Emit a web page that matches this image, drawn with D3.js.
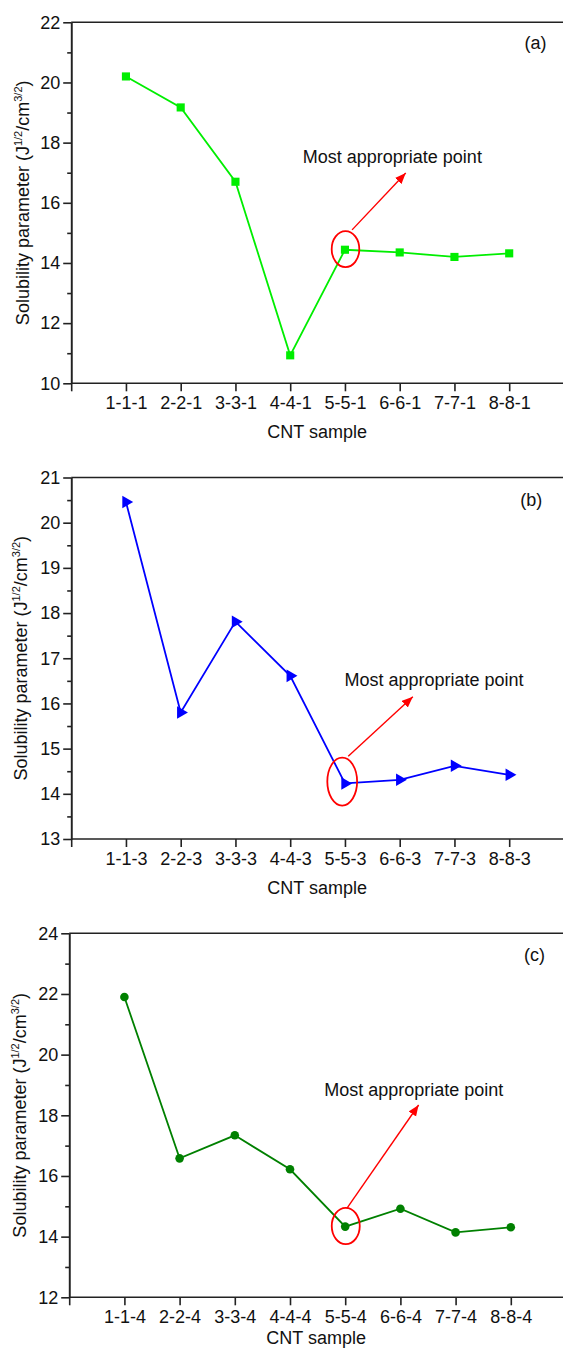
<!DOCTYPE html>
<html>
<head>
<meta charset="utf-8">
<script src="https://cdn.jsdelivr.net/npm/d3@7"></script>
<style>
  body { margin: 0; background: #fff; }
  svg text { font-family: Arial, "Liberation Sans", sans-serif; fill: #111; }
  .axis path, .axis line { stroke: #222; stroke-width: 1.6; }
  .frame { stroke: #222; stroke-width: 1.6; }
</style>
</head>
<body>
<svg id="chart" width="563" height="1349"></svg>
<script>
// Data
var samplesA = ["1-1-1", "2-2-1", "3-3-1", "4-4-1", "5-5-1", "6-6-1", "7-7-1", "8-8-1"];
var samplesB = ["1-1-3", "2-2-3", "3-3-3", "4-4-3", "5-5-3", "6-6-3", "7-7-3", "8-8-3"];
var samplesC = ["1-1-4", "2-2-4", "3-3-4", "4-4-4", "5-5-4", "6-6-4", "7-7-4", "8-8-4"];

var valuesA = [20.2, 19.17, 16.7, 10.93, 14.44, 14.35, 14.2, 14.32];
var valuesB = [20.46, 15.8, 17.81, 16.61, 14.23, 14.31, 14.62, 14.42];
var valuesC = [21.9, 16.58, 17.34, 16.22, 14.33, 14.92, 14.14, 14.31];

var yTicksA = [10, 12, 14, 16, 18, 20, 22];
var yMinorA = [11, 13, 15, 17, 19, 21];
var yTicksB = [13, 14, 15, 16, 17, 18, 19, 20, 21];
var yMinorB = [13.5, 14.5, 15.5, 16.5, 17.5, 18.5, 19.5, 20.5];
var yTicksC = [12, 14, 16, 18, 20, 22, 24];
var yMinorC = [13, 15, 17, 19, 21, 23];

var xTicks = [0, 1, 2, 3, 4, 5, 6, 7, 8, 9];

var svg = d3.select("#chart");

// arrow head for the annotation
svg.append("defs")
  .append("marker")
  .attr("id", "arrow")
  .attr("markerUnits", "userSpaceOnUse")
  .attr("markerWidth", 12)
  .attr("markerHeight", 10)
  .attr("refX", 11)
  .attr("refY", 4.5)
  .attr("orient", "auto")
  .append("path")
  .attr("d", "M0,0 L11,4.5 L0,9 Z")
  .attr("fill", "#ff0000");

var renderPanel = function(config) {
  var xScale = d3.scaleLinear()
    .domain([0, 9])
    .range([config.left, config.left + 9 * config.step]);

  var yScale = d3.scaleLinear()
    .domain(config.yDomain)
    .range([config.bottom, config.top]);

  var g = svg.append("g");

  // top frame
  g.append("line")
    .attr("class", "frame")
    .attr("x1", config.left)
    .attr("x2", 563)
    .attr("y1", config.top)
    .attr("y2", config.top);

  // minor y ticks
  g.append("g")
    .attr("class", "axis")
    .attr("transform", "translate(" + config.left + ",0)")
    .call(d3.axisLeft(yScale).tickValues(config.yMinor).tickSize(4).tickSizeOuter(0).tickFormat(""));

  // major y ticks
  var yAxis = g.append("g")
    .attr("class", "axis")
    .attr("transform", "translate(" + config.left + ",0)")
    .call(d3.axisLeft(yScale).tickValues(config.yTicks).tickSize(8).tickSizeOuter(0).tickPadding(3));
  yAxis.selectAll("text").style("font-size", "18px").attr("fill", "#111");

  // x axis
  var xAxis = g.append("g")
    .attr("class", "axis")
    .attr("transform", "translate(0," + config.bottom + ")")
    .call(d3.axisBottom(xScale)
      .tickValues(xTicks)
      .tickSize(8)
      .tickSizeOuter(0)
      .tickPadding(5)
      .tickFormat(function(i) { return config.labels[i - 1] || ""; }));
  xAxis.select(".domain").attr("d", "M" + config.left + ",0H563");
  xAxis.selectAll("text").style("font-size", "18px").attr("fill", "#111");

  // axis titles
  g.append("text")
    .attr("x", (config.left + 563) / 2)
    .attr("y", config.bottom + config.titleGap)
    .attr("text-anchor", "middle")
    .style("font-size", "18px")
    .text("CNT sample");

  var yTitle = g.append("text")
    .attr("transform", "translate(" + config.yTitleX + "," + (config.top + config.bottom) / 2 + ") rotate(-90)")
    .attr("text-anchor", "middle")
    .style("font-size", "18px");
  yTitle.append("tspan").text("Solubility parameter (J");
  yTitle.append("tspan").attr("dy", -7).style("font-size", "11px").text("1/2");
  yTitle.append("tspan").attr("dy", 7).text("/cm");
  yTitle.append("tspan").attr("dy", -7).style("font-size", "11px").text("3/2");
  yTitle.append("tspan").attr("dy", 7).text(")");

  // panel letter
  g.append("text")
    .attr("x", xScale(config.letterX))
    .attr("y", config.letterY)
    .attr("dy", "0.36em")
    .style("font-size", "18px")
    .text(config.letter);

  // line
  var line = d3.line()
    .x(function(d, i) { return xScale(i + 1); })
    .y(function(d) { return yScale(d); });

  g.append("path")
    .datum(config.values)
    .attr("d", line)
    .attr("fill", "none")
    .attr("stroke", config.color)
    .attr("stroke-width", 1.8);

  // markers
  g.selectAll(".pt")
    .data(config.values)
    .enter()
    .append("path")
    .attr("class", "pt")
    .attr("d", d3.symbol().type(config.symbol).size(config.symbolSize))
    .attr("transform", function(d, i) {
      return "translate(" + xScale(i + 1) + "," + yScale(d) + ") rotate(" + config.rotate + ")";
    })
    .attr("fill", config.color);

  // annotation
  var a = config.note;
  g.append("ellipse")
    .attr("cx", xScale(a.cx))
    .attr("cy", yScale(a.cy))
    .attr("rx", a.rx)
    .attr("ry", a.ry)
    .attr("fill", "none")
    .attr("stroke", "#ff0000")
    .attr("stroke-width", 1.8);

  g.append("line")
    .attr("x1", xScale(a.x1))
    .attr("y1", yScale(a.y1))
    .attr("x2", xScale(a.x2))
    .attr("y2", yScale(a.y2))
    .attr("stroke", "#ff0000")
    .attr("stroke-width", 1.4)
    .attr("marker-end", "url(#arrow)");

  g.append("text")
    .attr("x", xScale(a.tx))
    .attr("y", yScale(a.ty))
    .style("font-size", "18px")
    .text("Most appropriate point");
};

renderPanel({
  left: 71.2, step: 54.75, top: 22.3, bottom: 383.3, titleGap: 54.5,
  yDomain: [10, 22], yTicks: yTicksA, yMinor: yMinorA,
  labels: samplesA, values: valuesA,
  color: "#00ee00", symbol: d3.symbolSquare, symbolSize: 66, rotate: 0,
  yTitleX: 28.5, letter: "(a)", letterX: 8.28, letterY: 43,
  note: { cx: 5.01, cy: 14.46, rx: 13.8, ry: 18, x1: 5.13, y1: 15.1, x2: 6.11, y2: 16.99, tx: 4.23, ty: 17.31 }
});

renderPanel({
  left: 71.2, step: 54.75, top: 477.5, bottom: 839, titleGap: 54.5,
  yDomain: [13, 21], yTicks: yTicksB, yMinor: yMinorB,
  labels: samplesB, values: valuesB,
  color: "#0000ff", symbol: d3.symbolTriangle, symbolSize: 68, rotate: 90,
  yTitleX: 26.5, letter: "(b)", letterX: 8.2, letterY: 500,
  note: { cx: 4.95, cy: 14.27, rx: 14.9, ry: 24, x1: 5.06, y1: 14.83, x2: 6.24, y2: 16.15, tx: 4.99, ty: 16.38 }
});

renderPanel({
  left: 69.2, step: 55.2, top: 933.3, bottom: 1297.3, titleGap: 47,
  yDomain: [12, 24], yTicks: yTicksC, yMinor: yMinorC,
  labels: samplesC, values: valuesC,
  color: "#008000", symbol: d3.symbolCircle, symbolSize: 58, rotate: 0,
  yTitleX: 26, letter: "(c)", letterX: 8.24, letterY: 955,
  note: { cx: 5.01, cy: 14.35, rx: 14, ry: 18.2, x1: 5.03, y1: 14.93, x2: 6.33, y2: 18.34, tx: 4.62, ty: 18.65 }
});
</script>
</body>
</html>
